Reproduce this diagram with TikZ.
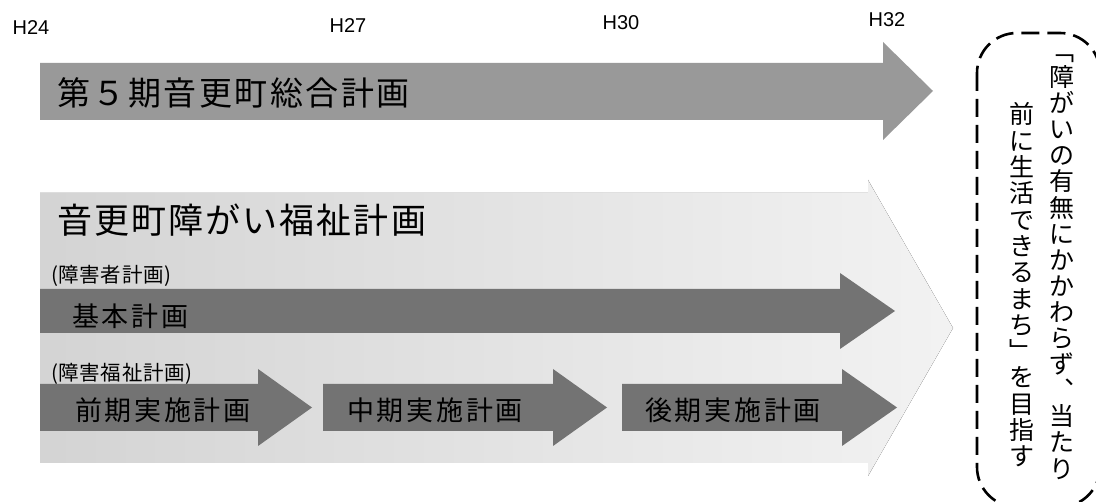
\documentclass[tikz,border=0pt]{standalone}
\usepackage{fontspec}
\setmainfont{Liberation Sans}
\newfontfamily\jp{Noto Sans CJK JP}
\newfontfamily\jpA[LetterSpace=7.6]{Noto Sans CJK JP}
\newfontfamily\jpB[LetterSpace=6]{Noto Sans CJK JP}
\newfontfamily\jpC[LetterSpace=3]{Noto Sans CJK JP}
\newfontfamily\jpD[LetterSpace=10]{Noto Sans CJK JP}
\begin{document}
\begin{tikzpicture}[x=1pt,y=-1pt,
  yearlbl/.style={font=\fontsize{20}{22}\selectfont, inner sep=0},
  toparrow/.style={fill=black!40},
  planarrow/.style={fill=black!55},
  bgarrow/.style={left color=black!17, right color=black!5},
  titletxt/.style={inner sep=0, anchor=west, font=\jpA\fontsize{33}{36}\selectfont},
  subtitle/.style={inner sep=0, anchor=west, font=\jpB\fontsize{35}{38}\selectfont},
  paren/.style={inner sep=0, anchor=west, font=\jpC\fontsize{20.5}{24}\selectfont},
  arrowtxt/.style={inner sep=0, anchor=west, font=\jpD\fontsize{27}{30}\selectfont},
  vch/.style={inner sep=0, anchor=base, font=\jp\fontsize{25}{25}\selectfont},
  dashbox/.style={draw=black, line width=2.6pt, dash pattern=on 18pt off 8pt, rounded corners=40pt}
]
\useasboundingbox (0,0) rectangle (1096,502);
\fill[white] (0,0) rectangle (1096,502);

% year labels
\node[yearlbl] (h24) at (31,28) {H24};
\node[yearlbl] (h27) at (348,26) {H27};
\node[yearlbl] (h30) at (621,23) {H30};
\node[yearlbl] (h32) at (887,20) {H32};

% top arrow
\fill[toparrow] (40,63) -- (883,63) -- (883,42) -- (933,91) -- (883,140) -- (883,120) -- (40,120) -- cycle;
\node[titletxt] (sogo) at (57,93) {第５期音更町総合計画};

% light background arrow
\fill[bgarrow] (40,193) -- (868,193) -- (868,180) -- (953,328) -- (868,476) -- (868,463) -- (40,463) -- cycle;
\node[subtitle] (fukushi) at (57,220) {音更町障がい福祉計画};

\node[paren] (p1) at (51,276) {(障害者計画)};
\fill[planarrow] (40,289) -- (840,289) -- (840,273) -- (895,311) -- (840,349) -- (840,333) -- (40,333) -- cycle;
\node[arrowtxt] (kihon) at (72,316) {基本計画};

\node[paren] (p2) at (51,374) {(障害福祉計画)};
\fill[planarrow] (40,384) -- (258,384) -- (258,369) -- (312,407.5) -- (258,446) -- (258,431) -- (40,431) -- cycle;
\fill[planarrow] (323,384) -- (553,384) -- (553,369) -- (607,407.5) -- (553,446) -- (553,431) -- (323,431) -- cycle;
\fill[planarrow] (622,384) -- (842,384) -- (842,369) -- (897,407.5) -- (842,446) -- (842,431) -- (622,431) -- cycle;
\node[arrowtxt] (zenki) at (75,410) {前期実施計画};
\node[arrowtxt] (chuki) at (347,410) {中期実施計画};
\node[arrowtxt] (koki) at (645,410) {後期実施計画};

% dashed box with vertical text
\begin{scope}
\clip (0,0) rectangle (1096,502);
\draw[dashbox] (977,33) rectangle (1100,507);
\end{scope}
\foreach \c [count=\i] in {﹁,障,が,い,の,有,無,に,か,か,わ,ら,ず,︑,当,た,り}
  \node[vch] (r\i) at (1062,{60.5+(\i-1)*26.1}) {\c};
\foreach \c [count=\i] in {前,に,生,活,で,き,る,ま,ち,﹂,を,目,指,す}
  \node[vch] (l\i) at (1022,{124+(\i-1)*26.3}) {\c};
\end{tikzpicture}
\end{document}
